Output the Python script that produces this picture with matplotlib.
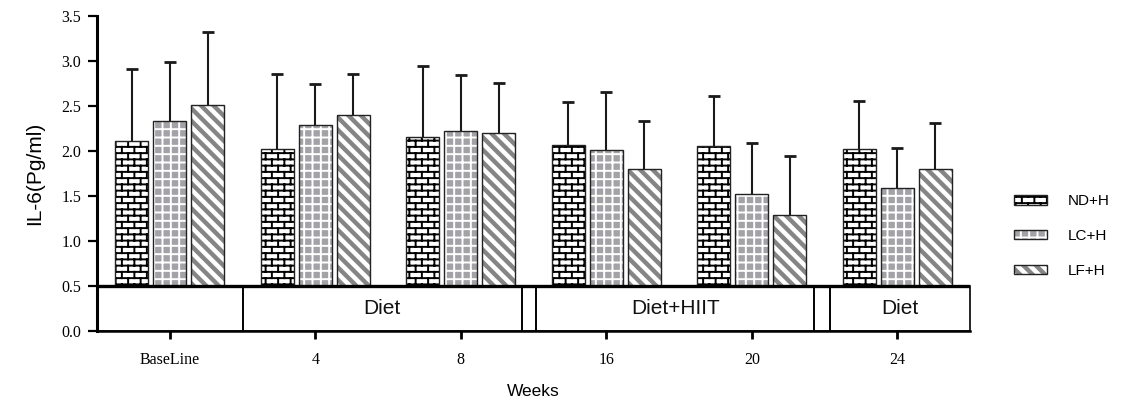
import warnings
import numpy as np
import matplotlib
matplotlib.use("Agg")
import matplotlib.pyplot as plt
import matplotlib.hatch as mhatch
from matplotlib.path import Path
from matplotlib.patches import Rectangle
from matplotlib.ticker import FormatStrFormatter
from matplotlib.legend_handler import HandlerTuple

warnings.filterwarnings("ignore")

plt.rcParams.update({
    "font.family": ["Liberation Serif", "DejaVu Serif"],
    "hatch.linewidth": 1.4,
})
SANS = ["Liberation Sans", "DejaVu Sans"]

# ---- data ----
WEEKS = ["BaseLine", "4", "8", "16", "20", "24"]
GROUPS = ["ND+H", "LC+H", "LF+H"]
MEAN_ND = [2.11, 2.02, 2.16, 2.07, 2.06, 2.02]
MEAN_LC = [2.34, 2.29, 2.23, 2.01, 1.53, 1.59]
MEAN_LF = [2.51, 2.40, 2.20, 1.80, 1.29, 1.80]
SD_ND = [0.81, 0.84, 0.79, 0.48, 0.56, 0.54]
SD_LC = [0.65, 0.46, 0.62, 0.65, 0.56, 0.45]
SD_LF = [0.82, 0.46, 0.56, 0.54, 0.66, 0.52]
PHASE_EDGES = [-0.5, 0.5, 2.42, 2.52, 4.43, 4.54, 5.5]
PHASE_LABELS = ["", "Diet", "", "Diet+HIIT", "", "Diet"]
BASE = 0.5


# ---- custom hatches: brick ('b'), grid ('g'), wide stripes ('s') ----
class BrickHatch(mhatch.HatchPatternBase):
    rows, cols = 16, 8

    def __init__(self, hatch, density):
        self.num_vertices = 0
        if "b" in hatch:
            self.num_vertices = 2 * self.rows + 2 * (self.rows + 1) * self.cols

    def set_vertices_and_codes(self, vertices, codes):
        v = []
        for r in range(self.rows):
            y = (r + 0.5) / self.rows
            v += [(0.0, y), (1.0, y)]
        for r in range(-1, self.rows):
            y0, y1 = (r + 0.5) / self.rows, (r + 1.5) / self.rows
            off = (0.25 + 0.5 * (r % 2)) / self.cols
            for c in range(self.cols):
                x = c / self.cols + off
                v += [(x, y0), (x, y1)]
        vertices[:] = v
        codes[0::2] = Path.MOVETO
        codes[1::2] = Path.LINETO


class GridHatch(mhatch.HatchPatternBase):
    n = 12

    def __init__(self, hatch, density):
        self.num_vertices = 4 * self.n if "g" in hatch else 0

    def set_vertices_and_codes(self, vertices, codes):
        v = []
        for k in range(self.n):
            t = (k + 0.5) / self.n
            v += [(0.0, t), (1.0, t), (t, 0.0), (t, 1.0)]
        vertices[:] = v
        codes[0::2] = Path.MOVETO
        codes[1::2] = Path.LINETO


class StripeHatch(mhatch.HatchPatternBase):
    n, w = 8, 0.035

    def __init__(self, hatch, density):
        self.ks = list(range(-1, 2 * self.n + 1))
        self.num_vertices = 5 * len(self.ks) if "s" in hatch else 0

    def set_vertices_and_codes(self, vertices, codes):
        v = []
        x0, x1 = -0.3, 1.3
        for k in self.ks:
            c = k / self.n
            v += [(x0, c - x0), (x1, c - x1), (x1, c + self.w - x1),
                  (x0, c + self.w - x0), (x0, c - x0)]
        vertices[:] = v
        codes[:] = Path.LINETO
        codes[0::5] = Path.MOVETO
        codes[4::5] = Path.CLOSEPOLY


mhatch._hatch_types.extend([BrickHatch, GridHatch, StripeHatch])


def main():
    fig = plt.figure(figsize=(11.24, 4.01), dpi=100)
    ax = fig.add_axes([0.0863, 0.1746, 0.7767, 0.7843])

    x = np.arange(len(WEEKS))
    width = 0.227
    offsets = [-0.262, 0.0, 0.262]
    means = [np.array(MEAN_ND), np.array(MEAN_LC), np.array(MEAN_LF)]
    sds = [np.array(SD_ND), np.array(SD_LC), np.array(SD_LF)]
    faces = ["white", "#a3a3a7", "#858585"]
    hatch_cols = ["black", "white", "white"]
    hatches = ["b", "g", "s"]

    handles = []
    for i in range(3):
        xs = x + offsets[i]
        hatch_layer = ax.bar(xs, means[i] - BASE, width, bottom=BASE,
                             facecolor=faces[i], edgecolor=hatch_cols[i],
                             hatch=hatches[i], linewidth=0, zorder=2)
        edge_layer = ax.bar(xs, means[i] - BASE, width, bottom=BASE,
                            fill=False, edgecolor="#222222", linewidth=1.0,
                            zorder=2.5)
        handles.append((hatch_layer[0], edge_layer[0]))
        top = means[i] + sds[i]
        ax.vlines(xs, means[i], top, color="#1a1a1a", linewidth=1.5, zorder=3)
        ax.hlines(top, xs - 0.042, xs + 0.042, color="#1a1a1a",
                  linewidth=2.0, zorder=3)

    # phase boxes under the bars
    for a, b, lab in zip(PHASE_EDGES[:-1], PHASE_EDGES[1:], PHASE_LABELS):
        ax.add_patch(Rectangle((a, 0), b - a, BASE, fill=False,
                               edgecolor="black", linewidth=1.2,
                               clip_on=False, zorder=3))
        if lab:
            ax.text((a + b) / 2, BASE / 2, lab, ha="center", va="center",
                    fontsize=15, family=SANS, color="#111111")
    ax.axhline(BASE, color="black", linewidth=2.4, zorder=4)

    ax.set_xlim(-0.5, 5.5)
    ax.set_ylim(0, 3.5)
    ax.set_xticks(x)
    ax.set_xticklabels(WEEKS)
    ax.set_yticks(np.arange(0, 3.51, 0.5))
    ax.yaxis.set_major_formatter(FormatStrFormatter("%.1f"))
    ax.tick_params(axis="y", direction="out", length=6.5, width=1.6,
                   labelsize=11.5, pad=5)
    ax.tick_params(axis="x", direction="out", length=6, width=2.0,
                   labelsize=11.5, pad=9)
    for s in ("top", "right"):
        ax.spines[s].set_visible(False)
    ax.spines["left"].set_linewidth(2.2)
    ax.spines["bottom"].set_linewidth(1.8)

    ax.set_ylabel("IL-6(Pg/ml)", fontsize=15, family=SANS, labelpad=12)
    ax.set_xlabel("Weeks", fontsize=12.5, family=SANS, labelpad=12)

    fig.legend(handles, GROUPS, loc="center left",
               bbox_to_anchor=(0.902, 0.4115), frameon=False,
               prop={"family": SANS, "size": 11},
               handler_map={tuple: HandlerTuple(ndivide=1)},
               handlelength=2.2, handleheight=0.55, handletextpad=1.3,
               labelspacing=1.35, borderpad=0, borderaxespad=0)

    fig.savefig("out.png", dpi=100)
    plt.close(fig)


if __name__ == "__main__":
    main()
